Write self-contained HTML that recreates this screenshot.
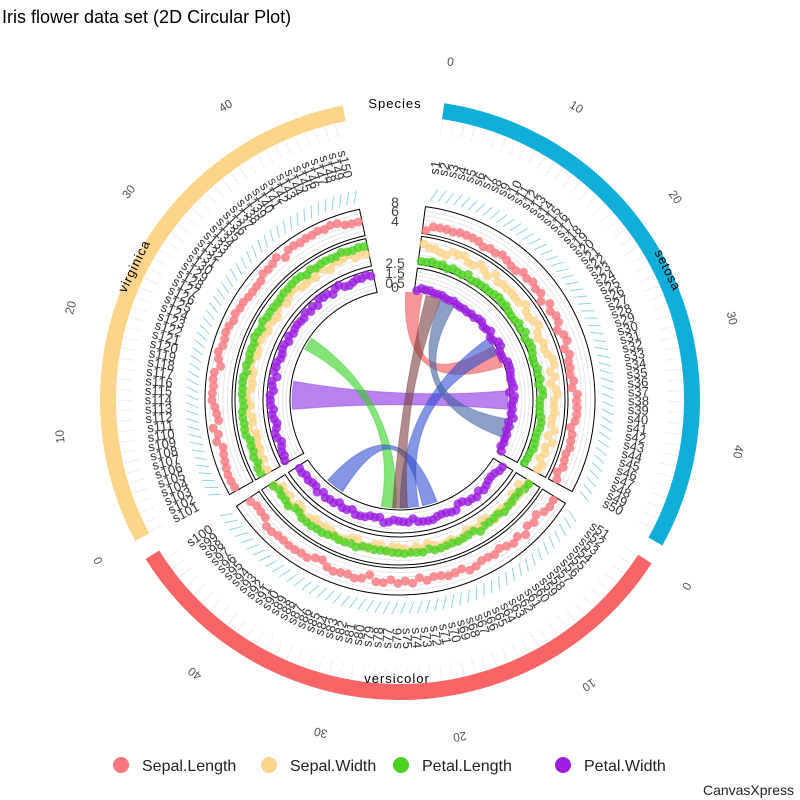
<!DOCTYPE html>
<html><head><meta charset="utf-8"><style>
body{margin:0;background:#fff}
svg{display:block;font-family:"Liberation Sans",sans-serif}
</style></head><body>
<svg id="s" width="800" height="800" viewBox="0 0 800 800" xmlns="http://www.w3.org/2000/svg">
<text x="2" y="23" font-size="18" fill="#000">Iris flower data set (2D Circular Plot)</text>
<g id="g"></g>
<text x="395" y="108" font-size="13" text-anchor="middle" letter-spacing="1">Species</text>
<text x="0" y="0" font-size="13" text-anchor="middle" letter-spacing="1" transform="translate(664,272) rotate(64)">setosa</text>
<text x="397" y="683" font-size="13" text-anchor="middle" letter-spacing="1">versicolor</text>
<text x="0" y="0" font-size="13" text-anchor="middle" letter-spacing="1" transform="translate(138,268) rotate(-64)">virginica</text>
<g font-size="16" fill="#222">
<circle cx="121" cy="765" r="8" fill="#f8767d"/><text x="142" y="771">Sepal.Length</text>
<circle cx="269" cy="765" r="8" fill="#fcd48a"/><text x="290" y="771">Sepal.Width</text>
<circle cx="401" cy="765" r="8" fill="#4cd11e"/><text x="422" y="771">Petal.Length</text>
<circle cx="563" cy="765" r="8" fill="#9b1ee0"/><text x="584" y="771">Petal.Width</text>
</g>
<text x="794" y="795" font-size="14" text-anchor="end" fill="#222">CanvasXpress</text>
</svg>
<script>
const C=400,g=document.getElementById('g'),NS='http://www.w3.org/2000/svg';
function P(r,a){a=a*Math.PI/180;return [C+r*Math.sin(a),C-r*Math.cos(a)];}
function el(t,at,txt){const e=document.createElementNS(NS,t);for(const k in at)e.setAttribute(k,at[k]);if(txt!==undefined)e.textContent=txt;g.appendChild(e);return e;}
function sector(r1,r2,a1,a2){const p1=P(r2,a1),p2=P(r2,a2),p3=P(r1,a2),p4=P(r1,a1);const l=(a2-a1)>180?1:0;
return `M${p1}A${r2},${r2} 0 ${l} 1 ${p2}L${p3}A${r1},${r1} 0 ${l} 0 ${p4}Z`;}
const segs=[{a1:8.5,a2:119,c:'#10aed8',o:0},{a1:123,a2:238,c:'#f86566',o:50},{a1:242,a2:349,c:'#fcd48a',o:100}];
let seed=7;function rnd(){seed=(seed*16807)%2147483647;return seed/2147483647;}
segs.forEach(s=>{el('path',{d:sector(284,300,s.a1,s.a2),fill:s.c});
 for(let v=0;v<=40;v+=10){const a=s.a1+(s.a2-s.a1)*v/49;const p=P(338,a);
  el('text',{x:p[0],y:p[1],'font-size':12,fill:'#555','text-anchor':'middle',transform:`rotate(${a} ${p[0]} ${p[1]})`},v);}
});
const ch=[['#f05050',3,12,60,72],['#8a2be2',265,280,85,95],['#32d020',298,305,182,190],['#3050d0',55,65,170,180],['#3050d0',212,222,160,168],['#7a4040',14,22,176,184],['#4060a0',22,30,100,110]];
ch.forEach(c=>{const r=108;const a=P(r,c[1]),b=P(r,c[2]),d=P(r,c[3]),e=P(r,c[4]);
 el('path',{d:`M${a}A${r},${r} 0 0 1 ${b}Q${C},${C} ${d}A${r},${r} 0 0 1 ${e}Q${C},${C} ${a}Z`,fill:c[0],'fill-opacity':0.6,stroke:c[0],'stroke-opacity':0.4});});
const tracks=[[168,195],[137,165],[110,133]];
segs.forEach((s,si)=>{
 const b1=s.a1-1,b2=s.a2-1;
 tracks.forEach(t=>{for(let k=1;k<6;k++){const r=t[0]+(t[1]-t[0])*k/6;el('path',{d:sector(r,r,b1,b2).split('L')[0],fill:'none',stroke:'#e6e6e6','stroke-width':1});}
  el('path',{d:sector(t[0],t[1],b1,b2),fill:'none',stroke:'#000','stroke-width':1});});
 for(let i=0;i<50;i++){const a=b1+1.2+(b2-b1-2.4)*i/49;
  let p=P(202,a),q=P(214,a+1.5);el('line',{x1:p[0],y1:p[1],x2:q[0],y2:q[1],stroke:'#8fd3e8','stroke-width':1});
  p=P(268,a);q=P(283,a);el('line',{x1:p[0],y1:p[1],x2:q[0],y2:q[1],stroke:'#eee','stroke-width':1});
  const n='s'+(s.o+i+1);p=P(228,a);let rot=a-90,anc='start';
  if(a>180){rot=a+90;anc='end';}
  el('text',{x:p[0],y:p[1]+4,'font-size':13,fill:'#333','text-anchor':anc,transform:`rotate(${rot} ${p[0]} ${p[1]})`},n);
  const sl=[5,5.9,6.6][si]+(rnd()-0.5)*1.0, sw=[3.4,2.8,3][si]+(rnd()-0.5)*0.8, pl=[1.5,4.3,5.5][si]+(rnd()-0.5)*1, pw=[0.25,1.3,2][si]+(rnd()-0.5)*0.6;
  const dot=(r,c)=>{const pp=P(r,a);el('circle',{cx:pp[0],cy:pp[1],r:4.5,fill:c,'fill-opacity':0.8});};
  dot(168+(sl-4)/4*27,'#f8767d');dot(137+(sw-1.5)/3*28,'#fcd48a');dot(137+(pl-0.5)/7*28,'#4cd11e');dot(110+pw/2.6*23,'#9b1ee0');
 }
});
[['8',207],['6',216],['4',226],['2.5',268],['1.5',278],['0.5',288],['0',292]].forEach(v=>el('text',{x:395,y:v[1],'font-size':14,fill:'#444','text-anchor':'middle'},v[0]));
</script>
</body></html>
